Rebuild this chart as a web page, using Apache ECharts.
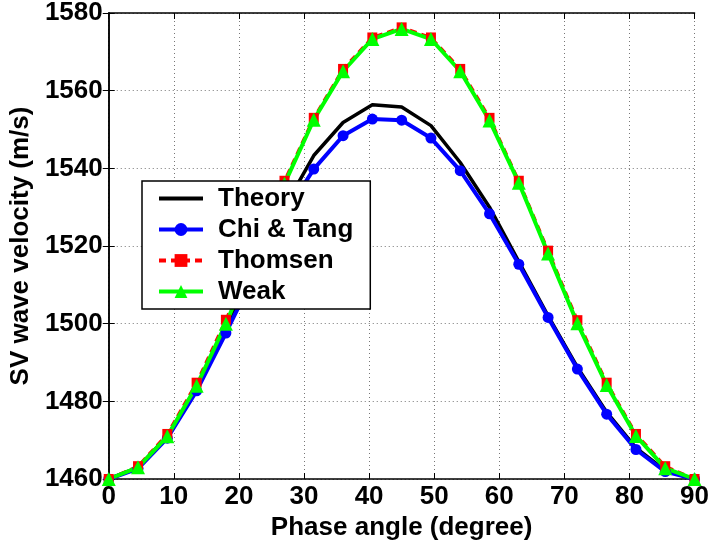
<!DOCTYPE html>
<html>
<head>
<meta charset="utf-8">
<script src="https://cdn.jsdelivr.net/npm/echarts@6/dist/echarts.min.js"></script>
<style>
html,body{margin:0;padding:0;background:#fff;}
#chart{width:712px;height:546px;}
</style>
</head>
<body>
<div id="chart"></div>
<script>
// Phase angles (degree)
const angles = [0, 4.5, 9, 13.5, 18, 22.5, 27, 31.5, 36, 40.5, 45, 49.5, 54, 58.5, 63, 67.5, 72, 76.5, 81, 85.5, 90];
// SV wave velocity (m/s)
const theory  = [1460, 1463, 1471, 1483.5, 1498.5, 1514.5, 1530, 1543.3, 1551.8, 1556.4, 1555.8, 1551, 1541.5, 1530, 1516, 1502, 1488.8, 1477.2, 1468, 1462.2, 1460];
const chiTang = [1460, 1462.7, 1470.5, 1482.7, 1497.6, 1513, 1528, 1539.8, 1548.4, 1552.7, 1552.4, 1547.8, 1539.4, 1528.3, 1515.3, 1501.6, 1488.3, 1476.7, 1467.6, 1461.9, 1460];
const thomsen = [1460, 1463.3, 1471.6, 1484.8, 1501, 1518.8, 1536.8, 1553, 1565.6, 1573.7, 1576.3, 1573.7, 1565.6, 1553, 1536.8, 1518.8, 1500.9, 1484.8, 1471.6, 1463.3, 1460];
const weak    = [1460, 1463, 1471, 1484, 1500, 1518, 1536, 1552.5, 1565, 1573.3, 1575.9, 1573.3, 1565, 1552.3, 1536.3, 1518.1, 1500.1, 1484.2, 1471.1, 1462.8, 1460];
const seriesNames = ['Theory', 'Chi & Tang', 'Thomsen', 'Weak'];

const pairs = ys => angles.map((a, i) => [a, ys[i]]);
const FONT = 'Liberation Sans';
const FS = 26;
const tickLabel = {fontFamily: FONT, fontWeight: 'bold', fontSize: FS, color: '#000'};
const gridLine = {show: true, lineStyle: {color: '#777', type: [1, 3], width: 1}};

const chart = echarts.init(document.getElementById('chart'), null, {renderer: 'canvas'});
chart.setOption({
  animation: false,
  backgroundColor: '#fff',
  grid: {left: 108, right: 15, top: 12, bottom: 67, show: false},
  legend: {
    orient: 'vertical',
    left: 142, top: 181,
    data: [
      {name: seriesNames[0], icon: 'path://M0,0 L44,0 L44,4 L0,4 Z'},
      {name: seriesNames[1]},
      {name: seriesNames[2]},
      {name: seriesNames[3]}
    ],
    backgroundColor: '#fff',
    borderColor: '#000', borderWidth: 1.5,
    padding: [4, 17, 4, 15],
    itemWidth: 44, itemHeight: 16, itemGap: 4,
    lineStyle: {width: 4},
    textStyle: {fontFamily: FONT, fontWeight: 'bold', fontSize: FS, color: '#000', lineHeight: 27, padding: [0, 0, 0, 10]},
    z: 10
  },
  xAxis: [{
    type: 'value', min: 0, max: 90, interval: 10,
    name: 'Phase angle (degree)', nameLocation: 'middle', nameGap: 29,
    nameTextStyle: {fontFamily: FONT, fontWeight: 'bold', fontSize: FS, color: '#000'},
    axisLine: {show: true, lineStyle: {color: '#000', width: 1.5}},
    axisTick: {show: true, inside: true, length: 6, lineStyle: {color: '#000'}},
    axisLabel: Object.assign({margin: 5}, tickLabel),
    splitLine: gridLine
  }, {
    type: 'value', min: 0, max: 90, interval: 10, position: 'top',
    axisLine: {show: true, lineStyle: {color: '#000', width: 1.5}},
    axisTick: {show: true, inside: true, length: 6, lineStyle: {color: '#000'}},
    axisLabel: {show: false}, splitLine: {show: false}
  }],
  yAxis: [{
    type: 'value', min: 1460, max: 1580, interval: 20,
    name: 'SV wave velocity (m/s)', nameLocation: 'middle', nameGap: 67,
    nameTextStyle: {fontFamily: FONT, fontWeight: 'bold', fontSize: FS, color: '#000'},
    axisLine: {show: true, lineStyle: {color: '#000', width: 1.5}},
    axisTick: {show: true, inside: true, length: 6, lineStyle: {color: '#000'}},
    axisLabel: Object.assign({margin: 6, formatter: v => String(v)}, tickLabel),
    splitLine: gridLine
  }, {
    type: 'value', min: 1460, max: 1580, interval: 20, position: 'right',
    axisLine: {show: true, lineStyle: {color: '#000', width: 1.5}},
    axisTick: {show: true, inside: true, length: 6, lineStyle: {color: '#000'}},
    axisLabel: {show: false}, splitLine: {show: false}
  }],
  series: [{
    name: seriesNames[0], type: 'line', data: pairs(theory),
    symbol: 'none', color: '#000',
    lineStyle: {color: '#000', width: 3.5}
  }, {
    name: seriesNames[1], type: 'line', data: pairs(chiTang),
    symbol: 'circle', symbolSize: 11, color: '#0000ff',
    itemStyle: {color: '#0000ff'},
    lineStyle: {color: '#0000ff', width: 4}
  }, {
    name: seriesNames[2], type: 'line', data: pairs(thomsen),
    symbol: 'rect', symbolSize: 10, color: '#ff0000',
    itemStyle: {color: '#ff0000'},
    lineStyle: {color: '#ff0000', width: 3, type: [7, 5]}
  }, {
    name: seriesNames[3], type: 'line', data: pairs(weak),
    symbol: 'triangle', symbolSize: 14, color: '#00ff00',
    itemStyle: {color: '#00ff00'},
    lineStyle: {color: '#00ff00', width: 4}
  }]
});
</script>
</body>
</html>
